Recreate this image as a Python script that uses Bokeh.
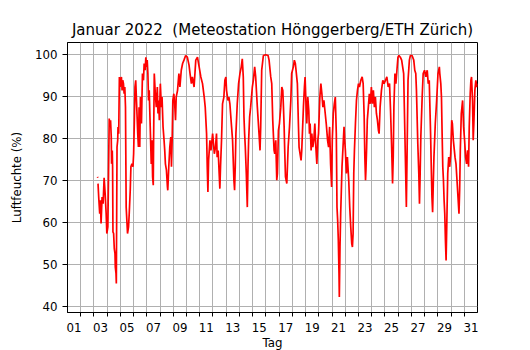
import numpy as np
from bokeh.plotting import figure
from bokeh.models import FixedTicker, ColumnDataSource
from bokeh.embed import file_html
from bokeh.resources import INLINE

# time in days since 1 Jan 2022 00:00, relative humidity in %
zeit = [
    2.270, 2.290, 2.300,
    2.308, 2.359, 2.436, 2.487, 2.538, 2.615, 2.692, 2.769, 2.846, 2.923, 2.974, 3.051, 3.103, 3.154,
    3.205, 3.256, 3.308, 3.333, 3.385, 3.410, 3.436, 3.487, 3.538, 3.590, 3.615, 3.667, 3.692, 3.744,
    3.795, 3.821, 3.872, 3.923, 3.974, 4.026, 4.077, 4.128, 4.179, 4.231, 4.282, 4.333, 4.385, 4.436,
    4.487, 4.538, 4.615, 4.667, 4.744, 4.795, 4.872, 4.949, 5.000, 5.051, 5.103,
    5.158, 5.235, 5.311, 5.362, 5.413, 5.464, 5.515, 5.592, 5.668, 5.745, 5.796, 5.872, 5.923, 5.974,
    6.026, 6.077, 6.128, 6.179, 6.255, 6.332, 6.383, 6.434, 6.485, 6.510, 6.561, 6.638, 6.714, 6.791,
    6.842, 6.893, 6.944, 7.020, 7.097, 7.148, 7.224, 7.301, 7.352, 7.403, 7.480, 7.556, 7.582, 7.658,
    7.735, 7.811, 7.862, 7.913, 7.964, 8.041, 8.117, 8.168, 8.219, 8.321, 8.423, 8.500, 8.602, 8.704,
    8.806, 8.934, 9.061, 9.189, 9.265, 9.367, 9.444, 9.571, 9.699, 9.827, 9.954, 10.082, 10.209, 10.337,
    10.413, 10.515, 10.566, 10.617, 10.668, 10.770, 10.847, 10.974, 11.102,
    11.190, 11.266, 11.316, 11.392, 11.468, 11.519, 11.570, 11.646, 11.722, 11.823, 11.899, 11.975,
    12.025, 12.127, 12.203, 12.278, 12.405, 12.481, 12.582, 12.633, 12.684, 12.734, 12.835, 12.937,
    13.038, 13.139, 13.215, 13.291, 13.342, 13.392, 13.443, 13.519, 13.595, 13.646, 13.696, 13.772,
    13.848, 13.975, 14.051, 14.152, 14.228, 14.354, 14.481, 14.557, 14.608, 14.684, 14.810, 14.987,
    15.165, 15.241, 15.367, 15.443, 15.519, 15.620, 15.671, 15.747, 15.823, 15.873, 15.949, 16.025,
    16.127, 16.203, 16.278, 16.329, 16.380, 16.430, 16.481, 16.582, 16.684, 16.785, 16.886,
    16.949, 17.076, 17.152, 17.228, 17.305, 17.381, 17.457, 17.508, 17.584, 17.660, 17.711, 17.838,
    17.914, 17.964, 18.041, 18.091, 18.168, 18.244, 18.294, 18.345, 18.421, 18.472, 18.548, 18.624,
    18.701, 18.777, 18.853, 18.929, 18.980, 19.081, 19.157, 19.234, 19.310, 19.386, 19.487, 19.563,
    19.665, 19.741, 19.817, 19.893, 19.970, 20.020, 20.096, 20.173, 20.249, 20.325, 20.376, 20.426,
    20.477, 20.528, 20.553, 20.604, 20.655, 20.706, 20.756, 20.832, 20.909, 20.959, 21.010, 21.086,
    21.162, 21.264, 21.340, 21.416, 21.492, 21.543, 21.594, 21.645, 21.695, 21.772, 21.848, 21.924,
    22.000, 22.076, 22.178, 22.279, 22.355, 22.431, 22.482, 22.533,
    22.567, 22.618, 22.669, 22.746, 22.822, 22.898, 22.975, 23.051, 23.127, 23.204, 23.280, 23.356,
    23.433, 23.509, 23.560, 23.636, 23.738, 23.840, 23.941, 24.043, 24.145, 24.247, 24.349, 24.425,
    24.501, 24.578, 24.628, 24.679, 24.756, 24.832, 24.908, 24.985, 25.061, 25.163, 25.265, 25.341,
    25.417, 25.468, 25.519, 25.570, 25.621, 25.672, 25.748, 25.850, 25.926, 26.053, 26.181, 26.257,
    26.333, 26.384, 26.486, 26.562, 26.613, 26.664, 26.715, 26.817, 26.893, 26.995, 27.097, 27.198,
    27.275, 27.351, 27.453, 27.504, 27.555, 27.606, 27.657, 27.707, 27.809, 27.911, 28.013, 28.115,
    28.150, 28.225, 28.275, 28.325, 28.375, 28.425, 28.475, 28.525, 28.575, 28.625, 28.675, 28.750,
    28.825, 28.900, 28.975, 29.050, 29.100, 29.175, 29.250, 29.300, 29.375, 29.450, 29.525, 29.600,
    29.650, 29.700, 29.775, 29.825, 29.875, 29.950, 30.025, 30.100, 30.175, 30.250, 30.325, 30.375,
    30.450, 30.500, 30.550, 30.625, 30.675, 30.725, 30.800, 30.875, 30.950, 30.990,
]
feuchte = [
    70.9, 70.7, np.nan,
    69.3, 66.1, 62.1, 65.3, 59.8, 66.1, 64.5, 70.7, 66.9, 62.1, 57.4, 59.0, 71.7, 84.8,
    82.8, 84.4, 80.4, 74.0, 77.2, 73.3, 57.8, 57.4, 53.8, 52.6, 49.4, 47.9, 45.5, 78.0,
    79.6, 82.8, 81.2, 94.7, 92.3, 93.9, 94.7, 91.5, 93.9, 93.1, 90.7, 92.3, 87.5, 63.7,
    60.6, 57.4, 59.0, 62.1, 67.7, 73.3, 74.0, 73.3, 76.4, 83.6, 92.3,
    93.9, 87.5, 81.2, 78.0, 87.5, 78.0, 89.9, 83.6, 95.5, 93.9, 97.9, 96.3, 99.4, 97.1,
    98.7, 95.5, 89.1, 91.5, 82.8, 74.0, 79.6, 70.9, 68.9, 79.6, 95.5, 90.7, 87.5, 92.3,
    86.0, 89.1, 84.4, 93.1, 87.5, 89.9, 82.8, 79.6, 77.2, 74.0, 72.5, 68.5, 67.7, 73.3,
    78.0, 80.4, 73.3, 79.6, 89.1, 90.7, 87.5, 84.4, 89.9, 91.5, 95.5, 92.3, 96.3, 97.9,
    98.7, 99.8, 99.4, 97.5, 95.5, 93.1, 94.7, 92.3, 98.7, 99.4, 97.1, 94.7, 93.1, 89.9,
    87.5, 81.2, 73.3, 67.3, 74.8, 79.6, 77.2, 81.2, 76.4,
    78.0, 81.2, 75.6, 77.2, 71.7, 68.1, 73.3, 79.6, 88.3, 89.9, 93.9, 94.7,
    91.5, 89.1, 89.9, 88.3, 82.8, 79.6, 70.1, 67.7, 73.3, 81.2, 88.3, 93.1,
    95.5, 97.1, 99.0, 94.7, 85.2, 81.2, 78.0, 71.7, 63.7, 73.3, 79.6, 85.2,
    87.5, 92.3, 93.9, 97.1, 94.7, 87.5, 81.2, 77.2, 82.8, 96.3, 99.8, 100.0,
    99.8, 98.7, 94.7, 93.1, 84.4, 77.2, 76.4, 79.6, 70.1, 71.7, 82.0, 83.6,
    87.5, 92.3, 91.5, 87.5, 82.8, 76.4, 70.9, 69.3, 78.0, 82.8, 89.1,
    95.5, 97.1, 98.7, 97.9, 95.5, 93.1, 83.6, 78.0, 76.4, 74.8, 77.2, 87.5,
    92.3, 94.7, 87.5, 83.6, 89.9, 86.7, 81.2, 83.6, 77.2, 81.2, 78.0, 79.6,
    83.6, 78.0, 74.0, 79.6, 81.2, 89.9, 93.1, 90.7, 87.5, 89.1, 86.0, 83.6,
    79.6, 78.0, 82.8, 74.0, 68.5, 79.6, 86.0, 88.3, 89.9, 81.2, 63.7, 60.6,
    55.8, 47.9, 42.3, 54.2, 62.1, 67.7, 73.3, 78.0, 82.8, 79.6, 77.2, 71.7,
    75.6, 70.1, 63.7, 59.0, 55.0, 54.2, 57.4, 71.7, 77.2, 83.6, 89.1, 91.5,
    93.1, 92.3, 93.9, 94.7, 93.1, 85.2, 75.6, 70.1,
    72.6, 78.0, 84.4, 87.5, 90.7, 88.3, 92.3, 88.3, 91.5, 87.5, 89.9, 86.0,
    84.4, 82.0, 81.2, 87.5, 91.5, 93.9, 93.1, 93.9, 94.7, 92.3, 93.1, 86.7,
    78.8, 69.3, 75.6, 87.5, 95.5, 93.1, 96.3, 99.4, 99.8, 99.4, 98.7, 97.1,
    95.5, 87.5, 79.6, 71.7, 63.7, 75.6, 93.9, 98.7, 99.8, 99.8, 98.7, 96.3,
    95.5, 91.5, 78.8, 71.7, 64.5, 71.7, 80.4, 89.9, 95.5, 96.3, 94.7, 96.3,
    93.1, 93.9, 81.2, 73.3, 66.1, 62.5, 69.3, 75.6, 83.6, 89.1, 95.5, 97.1,
    95.5, 93.1, 89.9, 81.2, 73.3, 70.1, 65.3, 62.1, 55.8, 51.0, 59.0, 71.7,
    75.6, 73.3, 76.4, 84.4, 83.6, 79.6, 77.2, 75.6, 74.0, 70.1, 66.1, 62.1,
    67.7, 77.2, 86.0, 87.5, 89.1, 82.8, 79.6, 75.6, 74.0, 77.2, 73.3, 82.8,
    90.7, 93.9, 94.7, 89.1, 79.6, 83.6, 91.5, 93.9, 92.3, 93.1,
]

# axis tick positions and labels
tag_labels = ["01", "03", "05", "07", "09", "11", "13", "15", "17", "19", "21",
              "23", "25", "27", "29", "31"]
tag_label_pos = [int(s) - 0.5 for s in tag_labels]
tag_grenzen = list(range(1, 31))
y_ticks = [40, 50, 60, 70, 80, 90, 100]

FONT = "DejaVu Sans"
LBL = "11.8px"

src = ColumnDataSource(dict(x=zeit, y=feuchte))

p = figure(output_backend="svg", toolbar_location=None,
           frame_width=410, frame_height=270,
           min_border_left=67, min_border_right=45,
           min_border_top=42, min_border_bottom=38,
           x_range=(0, 31), y_range=(38.6, 102.9))

p.line("x", "y", source=src, line_color="red", line_width=1.7)

p.title.text = "Januar 2022\u00a0 (Meteostation Hönggerberg/ETH Zürich)"
p.title.align = "center"
p.title.text_font = FONT
p.title.text_font_size = "15px"
p.title.text_font_style = "normal"
p.title.text_color = "black"
p.title.standoff = 7

# x axis
xa = p.xaxis[0]
xa.ticker = FixedTicker(ticks=tag_label_pos, minor_ticks=tag_grenzen)
xa.major_label_overrides = {pos: lab for pos, lab in zip(tag_label_pos, tag_labels)}
xa.major_tick_line_color = None
xa.minor_tick_in = 0
xa.minor_tick_out = 4
xa.minor_tick_line_color = "black"
xa.axis_label = "Tag"
xa.major_label_standoff = 4
xa.axis_label_standoff = 1

# y axis
ya = p.yaxis[0]
ya.ticker = FixedTicker(ticks=y_ticks)
ya.major_tick_in = 0
ya.major_tick_out = 5
ya.minor_tick_line_color = None
ya.axis_label = "Luftfeuchte (%)"
ya.major_label_standoff = 5
ya.axis_label_standoff = 8

for ax in (xa, ya):
    ax.axis_line_color = "black"
    ax.axis_line_width = 1
    ax.major_label_text_font = FONT
    ax.major_label_text_font_size = LBL
    ax.major_label_text_color = "black"
    ax.axis_label_text_font = FONT
    ax.axis_label_text_font_size = LBL
    ax.axis_label_text_font_style = "normal"
    ax.axis_label_text_color = "black"

p.xgrid.ticker = FixedTicker(ticks=tag_grenzen)
p.ygrid.ticker = FixedTicker(ticks=y_ticks)
for g in (p.xgrid, p.ygrid):
    g.grid_line_color = "#b0b0b0"
    g.grid_line_width = 1

p.outline_line_color = "black"
p.outline_line_width = 1
p.background_fill_color = "white"
p.border_fill_color = "white"

open("out.html", "w").write(file_html(p, INLINE))
